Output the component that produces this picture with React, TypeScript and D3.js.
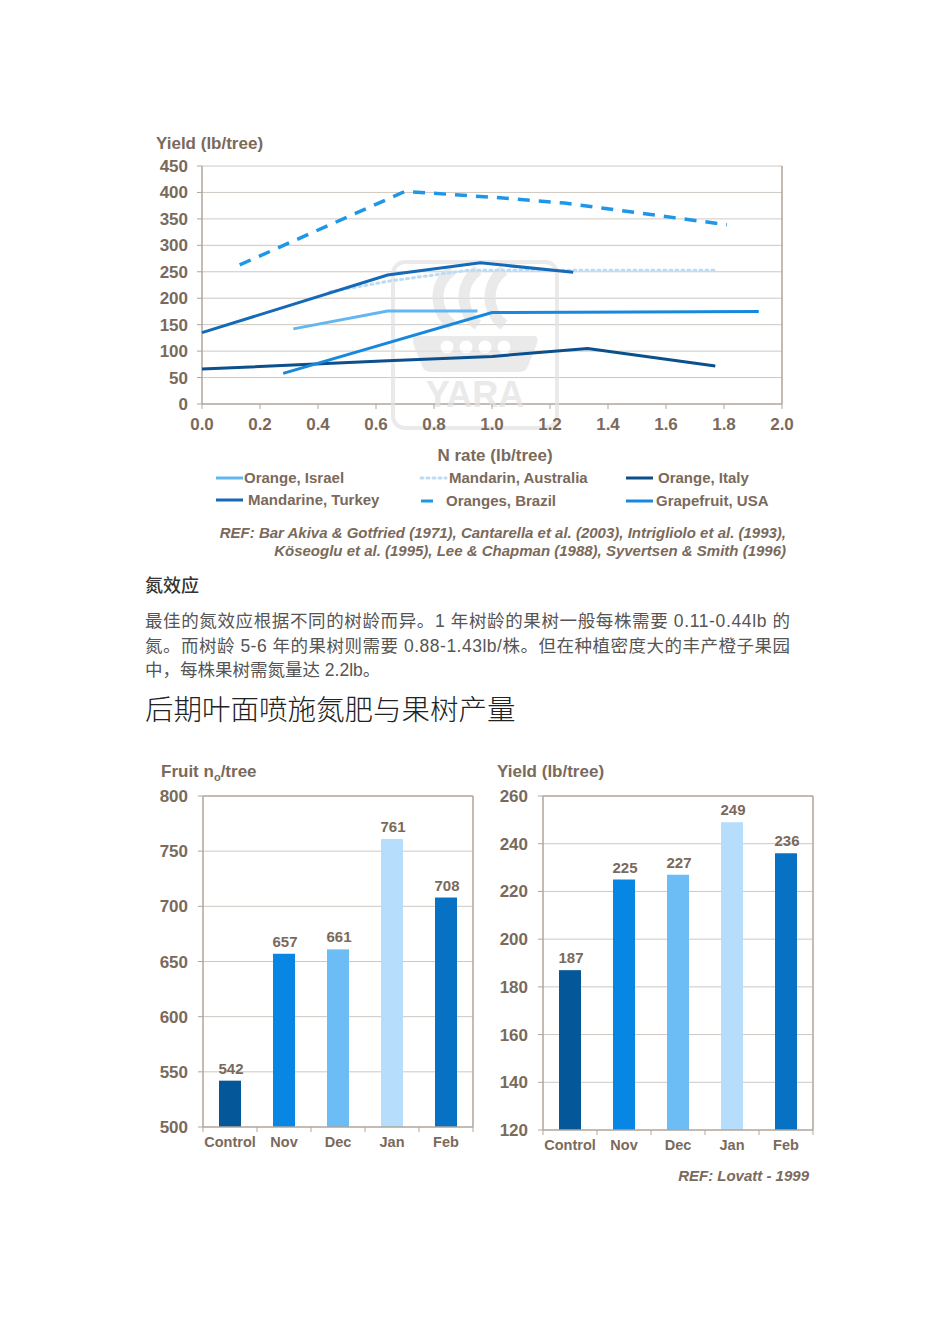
import React from "react";
import * as d3 from "d3";

// ---------- Data ----------
type Pt = [number, number];

const orangeIsrael: Pt[] = [[0.315, 142], [0.64, 176], [0.95, 176]];
const mandarinAustralia: Pt[] = [[0.44, 212], [0.64, 232], [0.92, 253], [1.77, 253]];
const orangeItaly: Pt[] = [[0.0, 66], [0.64, 82], [1.0, 90], [1.33, 105], [1.77, 72]];
const mandarineTurkey: Pt[] = [[0.0, 135], [0.64, 244], [0.96, 267], [1.28, 249]];
const orangesBrazil: Pt[] = [[0.13, 263], [0.7, 402], [1.0, 391], [1.25, 380], [1.81, 339]];
const grapefruitUSA: Pt[] = [[0.28, 58], [1.0, 173], [1.92, 175]];

const nRateTicks = [0, 0.2, 0.4, 0.6, 0.8, 1.0, 1.2, 1.4, 1.6, 1.8, 2.0];
const yieldTicks = [0, 50, 100, 150, 200, 250, 300, 350, 400, 450];

const months = ["Control", "Nov", "Dec", "Jan", "Feb"];
const fruitCount = [542, 657, 661, 761, 708];
const fruitYield = [187, 225, 227, 249, 236];
const fruitCountTicks = [500, 550, 600, 650, 700, 750, 800];
const fruitYieldTicks = [120, 140, 160, 180, 200, 220, 240, 260];

const bodyLines = [
  "最佳的氮效应根据不同的树龄而异。1 年树龄的果树一般每株需要 0.11-0.44lb 的",
  "氮。而树龄 5-6 年的果树则需要 0.88-1.43lb/株。但在种植密度大的丰产橙子果园",
  "中，每株果树需氮量达 2.2lb。",
];

// ---------- Styles ----------
const TXT = "#7a6a5b";
const GRID = "#cfc8c2";
const AXIS = "#b0a59b";
const FONT = "'Liberation Sans', Arial, sans-serif";
const MIXED = "'Liberation Sans', 'Noto Sans CJK SC', sans-serif";
const CJK = "'Noto Sans CJK SC', sans-serif";

const series = [
  { name: "Orange, Israel", data: orangeIsrael, color: "#64b6f1", dash: "", width: 3 },
  { name: "Mandarin, Australia", data: mandarinAustralia, color: "#bcdcf6", dash: "2 4", width: 3 },
  { name: "Orange, Italy", data: orangeItaly, color: "#0b4f8d", dash: "", width: 3 },
  { name: "Mandarine, Turkey", data: mandarineTurkey, color: "#1569b6", dash: "", width: 3 },
  { name: "Oranges, Brazil", data: orangesBrazil, color: "#1f97e9", dash: "12 9", width: 3.5 },
  { name: "Grapefruit, USA", data: grapefruitUSA, color: "#1888df", dash: "", width: 3 },
];

function LineChart() {
  const x = d3.scaleLinear().domain([0, 2]).range([202, 782]);
  const y = d3.scaleLinear().domain([0, 450]).range([404, 166]);
  const line = d3
    .line<Pt>()
    .x((d) => x(d[0]))
    .y((d) => y(d[1]));

  const legendPos = [
    { lx: 216, len: 27, tx: 244, ty: 478 },
    { lx: 421, len: 25, tx: 449, ty: 478 },
    { lx: 626, len: 27, tx: 658, ty: 478 },
    { lx: 216, len: 27, tx: 248, ty: 500 },
    { lx: 421, len: 12, tx: 446, ty: 501 },
    { lx: 626, len: 27, tx: 656, ty: 501 },
  ];

  return (
    <g>
      <text x={156} y={149} fontFamily={FONT} fontWeight="bold" fontSize={17} fill={TXT}>
        Yield (lb/tree)
      </text>
      {/* horizontal grid */}
      {yieldTicks.slice(1).map((t) => (
        <line key={t} x1={x(0)} x2={x(2)} y1={y(t)} y2={y(t)} stroke={GRID} strokeWidth={1} />
      ))}
      {/* frame */}
      <line x1={x(2)} x2={x(2)} y1={y(450)} y2={y(0)} stroke={AXIS} strokeWidth={1.5} />
      <line x1={x(0)} x2={x(0)} y1={y(450)} y2={y(0)} stroke={AXIS} strokeWidth={1.5} />
      <line x1={x(0)} x2={x(2)} y1={y(0)} y2={y(0)} stroke={AXIS} strokeWidth={1.5} />
      {yieldTicks.map((t) => (
        <g key={t}>
          <line x1={x(0) - 5} x2={x(0)} y1={y(t)} y2={y(t)} stroke={AXIS} />
          <text x={188} y={y(t) + 6} textAnchor="end" fontFamily={FONT} fontWeight="bold" fontSize={17} fill={TXT}>
            {t}
          </text>
        </g>
      ))}

      {/* watermark logo */}
      <g opacity={0.7}>
        <rect x={393} y={262} width={164} height={166} rx={12} fill="none" stroke="#e2e2e2" strokeWidth={4} />
        <path d="M452,270 A34,34 0 0 0 452,325" fill="none" stroke="#e2e2e2" strokeWidth={11} />
        <path d="M478,270 A34,34 0 0 0 478,325" fill="none" stroke="#e2e2e2" strokeWidth={11} />
        <path d="M504,270 A34,34 0 0 0 504,325" fill="none" stroke="#e2e2e2" strokeWidth={11} />
        <path d="M416,336 L534,336 Q540,336 536,346 L528,366 Q526,372 518,372 L432,372 Q424,372 422,366 L414,346 Q411,336 416,336 Z" fill="#e2e2e2" />
        {[447, 466, 485, 504].map((cx) => (
          <circle key={cx} cx={cx} cy={347} r={7} fill="#ffffff" stroke="#e2e2e2" strokeWidth={1} />
        ))}
        <text x={475} y={407} textAnchor="middle" fontFamily={FONT} fontWeight="bold" fontSize={36} fill="#e2e2e2">
          YARA
        </text>
      </g>

      {nRateTicks.map((t) => (
        <g key={t}>
          <line x1={x(t)} x2={x(t)} y1={y(0)} y2={y(0) + 5} stroke={AXIS} />
          <text x={x(t)} y={430} textAnchor="middle" fontFamily={FONT} fontWeight="bold" fontSize={17} fill={TXT}>
            {t.toFixed(1)}
          </text>
        </g>
      ))}

      {series.map((s) => (
        <path
          key={s.name}
          d={line(s.data) || ""}
          fill="none"
          stroke={s.color}
          strokeWidth={s.width}
          strokeDasharray={s.dash || undefined}
          strokeLinecap={s.dash === "2 4" ? "round" : "butt"}
        />
      ))}

      <text x={495} y={461} textAnchor="middle" fontFamily={FONT} fontWeight="bold" fontSize={17} fill={TXT}>
        N rate (lb/tree)
      </text>

      {series.map((s, i) => {
        const p = legendPos[i];
        return (
          <g key={s.name}>
            <line
              x1={p.lx}
              x2={p.lx + p.len}
              y1={p.ty}
              y2={p.ty}
              stroke={s.color}
              strokeWidth={3}
              strokeDasharray={s.dash === "2 4" ? "2 4" : undefined}
              strokeLinecap={s.dash === "2 4" ? "round" : "butt"}
            />
            <text x={p.tx} y={p.ty + 5} fontFamily={FONT} fontWeight="bold" fontSize={15} fill={TXT}>
              {s.name}
            </text>
          </g>
        );
      })}

      <text x={786} y={538} textAnchor="end" fontFamily={FONT} fontWeight="bold" fontStyle="italic" fontSize={15} fill={TXT}>
        REF: Bar Akiva &amp; Gotfried  (1971), Cantarella et al. (2003), Intrigliolo et al. (1993),
      </text>
      <text x={786} y={556} textAnchor="end" fontFamily={FONT} fontWeight="bold" fontStyle="italic" fontSize={15} fill={TXT}>
        Köseoglu et al. (1995), Lee &amp; Chapman (1988), Syvertsen &amp; Smith (1996)
      </text>
    </g>
  );
}

const barColors = ["#04589a", "#0786e4", "#6cbdf6", "#b6defc", "#0772c3"];

function BarChart(props: {
  left: number;
  right: number;
  top: number;
  bottom: number;
  values: number[];
  ticks: number[];
  labelRight: number;
  catY: number;
  title: React.ReactNode;
  titleX: number;
}) {
  const { left, right, top, bottom, values, ticks, labelRight, catY, title, titleX } = props;
  const x = d3.scaleBand<string>().domain(months).range([left, right]).paddingInner(0).paddingOuter(0);
  const y = d3.scaleLinear().domain([ticks[0], ticks[ticks.length - 1]]).range([bottom, top]);
  const bw = 22;
  return (
    <g>
      <text x={titleX} y={777} fontFamily={FONT} fontWeight="bold" fontSize={17} fill={TXT}>
        {title}
      </text>
      {ticks.slice(1, -1).map((t) => (
        <line key={t} x1={left} x2={right} y1={y(t)} y2={y(t)} stroke={GRID} />
      ))}
      <line x1={left} x2={right} y1={top} y2={top} stroke={AXIS} strokeWidth={1.5} />
      <line x1={right} x2={right} y1={top} y2={bottom} stroke={AXIS} strokeWidth={1.5} />
      <line x1={left} x2={left} y1={top} y2={bottom} stroke={AXIS} strokeWidth={1.5} />
      {ticks.map((t) => (
        <g key={t}>
          <line x1={left - 5} x2={left} y1={y(t)} y2={y(t)} stroke={AXIS} />
          <text x={labelRight} y={y(t) + 6} textAnchor="end" fontFamily={FONT} fontWeight="bold" fontSize={17} fill={TXT}>
            {t}
          </text>
        </g>
      ))}
      {values.map((v, i) => {
        const cx = (x(months[i]) as number) + x.bandwidth() / 2;
        return (
          <g key={months[i]}>
            <rect x={cx - bw / 2} y={y(v)} width={bw} height={bottom - y(v)} fill={barColors[i]} />
            <text x={cx + 1} y={y(v) - 7} textAnchor="middle" fontFamily={FONT} fontWeight="bold" fontSize={15} fill={TXT}>
              {v}
            </text>
            <text x={cx} y={catY} textAnchor="middle" fontFamily={FONT} fontWeight="bold" fontSize={14.5} fill={TXT}>
              {months[i]}
            </text>
          </g>
        );
      })}
      <line x1={left} x2={right} y1={bottom} y2={bottom} stroke={AXIS} strokeWidth={1.5} />
      {months.concat([""]).map((m, i) => {
        const bx = left + i * x.bandwidth();
        return <line key={i} x1={bx} x2={bx} y1={bottom} y2={bottom + 5} stroke={AXIS} />;
      })}
    </g>
  );
}

export default function App() {
  return (
    <svg
      width={950}
      height={1344}
      style={{ position: "absolute", left: 0, top: 0, background: "#ffffff" }}
    >
      <rect x={0} y={0} width={950} height={1344} fill="#ffffff" />
      <LineChart />

      <text x={145} y={592} fontFamily={CJK} fontWeight={500} fontSize={18} fill="#333333">
        氮效应
      </text>
      {bodyLines.map((l, i) => (
        <text
          key={i}
          x={145}
          y={627 + i * 24.5}
          fontFamily={MIXED}
          fontSize={17.5}
          fill="#555555"
          textLength={i < 2 ? 645 : undefined}
          lengthAdjust="spacing"
        >
          {l}
        </text>
      ))}
      <text x={145} y={720} fontFamily={CJK} fontWeight={300} fontSize={28.5} fill="#222222">
        后期叶面喷施氮肥与果树产量
      </text>

      <BarChart
        left={203}
        right={473}
        top={796}
        bottom={1127}
        values={fruitCount}
        ticks={fruitCountTicks}
        labelRight={188}
        catY={1147}
        titleX={161}
        title={
          <>
            Fruit n<tspan fontSize={11} dy={4}>o</tspan>
            <tspan dy={-4}>/tree</tspan>
          </>
        }
      />
      <BarChart
        left={543}
        right={813}
        top={796}
        bottom={1130}
        values={fruitYield}
        ticks={fruitYieldTicks}
        labelRight={528}
        catY={1150}
        titleX={497}
        title="Yield (lb/tree)"
      />
      <text x={809} y={1181} textAnchor="end" fontFamily={FONT} fontWeight="bold" fontStyle="italic" fontSize={15} fill={TXT}>
        REF: Lovatt - 1999
      </text>
    </svg>
  );
}
